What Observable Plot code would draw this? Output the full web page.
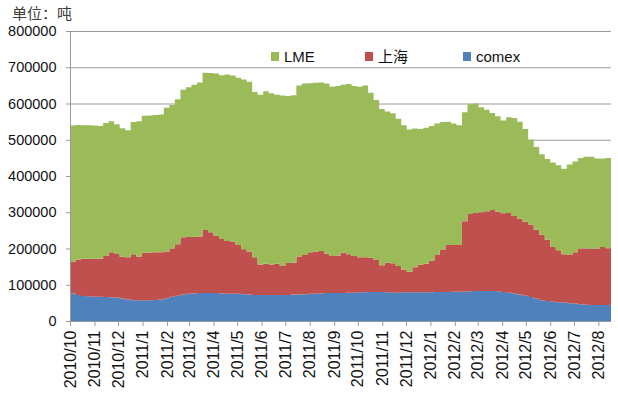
<!DOCTYPE html>
<html>
<head>
<meta charset="utf-8">
<script src="https://cdn.jsdelivr.net/npm/d3@7"></script>
<script src="https://cdn.jsdelivr.net/npm/@observablehq/plot@0.6"></script>
<style>
  body { margin: 0; background: #fff; }
  #wrap { position: relative; width: 618px; height: 403px; overflow: hidden; }
  #title { position: absolute; left: 12px; top: 5px; font: 15px/15px "Noto Sans CJK SC", sans-serif; color: #404040; }
  .leg { position: absolute; top: 49px; height: 15px; font: 15px/15px "Liberation Sans", "Noto Sans CJK SC", sans-serif; color: #111; display: flex; align-items: center; }
  .leg span.sw { display: inline-block; width: 8px; height: 9px; margin-right: 5px; }
  #chart { position: absolute; left: 0; top: 0; }
</style>
</head>
<body>
<div id="wrap">
  <div id="chart"></div>
  <div id="title">单位：吨</div>
  <div id="legend"></div>
</div>
<script>
// Weekly series, start 2010-10-01 (tonnes)
const startDate = "2010-10-01";
const seriesNames = ["comex", "上海", "LME"];
const seriesColors = ["#4F81BD", "#C0504D", "#9BBB59"];
const legendOrder = ["LME", "上海", "comex"];
const yTicks = [0, 100000, 200000, 300000, 400000, 500000, 600000, 700000, 800000];

const comex = [76,72,69,68,67,67,66,65,65,62,59,57,57,57,57,58,59,63,67,70,
  73,75,76,77,77,77,77,76,75,75,75,74,73,72,72,72,72,72,72,72,
  73,73,74,75,75,76,77,77,77,77,78,78,79,79,80,80,80,79,78,78,
  79,79,79,79,79,79,80,80,80,81,81,81,82,83,83,83,83,82,80,78,
  76,73,70,66,62,57,55,53,52,51,49,48,46,45,44,44,44,44,44].map(v => v * 1000);

const shanghai = [88,98,103,104,105,105,113,125,120,115,117,127,121,131,132,132,131,129,133,142,
  158,157,156,156,174,168,159,150,146,144,135,124,119,104,84,86,84,86,80,88,
  88,105,108,115,117,117,109,102,104,111,106,101,97,97,95,88,74,82,81,74,
  63,57,69,76,79,87,102,116,130,129,129,194,213,215,217,220,223,220,217,220,
  214,209,204,200,190,181,169,151,143,133,133,142,154,155,155,155,160,157,157].map(v => v * 1000);

const lme = [375,371,368,368,367,366,367,361,358,355,350,365,373,378,378,378,380,396,396,400,
  407,413,420,425,434,439,447,452,459,458,461,468,468,456,468,476,472,466,470,461,
  462,472,473,466,465,465,469,467,467,464,470,469,470,474,455,442,431,417,414,406,
  398,392,383,375,375,372,363,353,340,335,330,301,303,302,290,280,268,263,256,264,
  270,268,256,234,228,222,223,233,235,236,250,250,250,253,254,249,244,249,239].map(v => v * 1000);

const values = [comex, shanghai, lme];
const t0 = new Date(startDate + "T00:00:00Z").getTime();
const dates = comex.map((_, i) => new Date(t0 + i * 7 * 864e5));

const rows = [];
seriesNames.forEach((name, s) => {
  values[s].forEach((v, i) => rows.push({date: dates[i], value: v, series: name}));
});

const chart = Plot.plot({
  width: 618,
  height: 403,
  marginLeft: 70,
  marginRight: 7,
  marginTop: 31,
  marginBottom: 82,
  style: {fontFamily: "'Liberation Sans', Arial, sans-serif", background: "transparent"},
  x: {type: "utc", domain: [dates[0], dates[dates.length - 1]]},
  y: {domain: [0, 800000]},
  color: {domain: seriesNames, range: seriesColors},
  marks: [
    Plot.gridY(yTicks, {stroke: "#9a9a9a", strokeOpacity: 1, insetLeft: -4}),
    Plot.areaY(rows, {x: "date", y: "value", z: "series", fill: "series", curve: "step-after", order: null}),
    Plot.ruleY([0], {stroke: "#9a9a9a"}),
    Plot.ruleX([dates[0]], {stroke: "#9a9a9a"}),
    Plot.axisY({ticks: yTicks, tickFormat: d => String(d), tickSize: 0, tickPadding: 14, fontSize: 14.5, fill: "#111", label: null}),
    Plot.axisX({ticks: "month", tickFormat: "%Y/%-m", tickRotate: -90, tickSize: 5, tickPadding: 4, stroke: "#9a9a9a", fill: "#111", fontSize: 16, label: null})
  ]
});
document.getElementById("chart").appendChild(chart);

const legendPos = {"LME": 271, "上海": 365, "comex": 463};
const legend = document.getElementById("legend");
legendOrder.forEach(name => {
  const d = document.createElement("div");
  d.className = "leg";
  d.style.left = legendPos[name] + "px";
  const sw = document.createElement("span");
  sw.className = "sw";
  sw.style.background = seriesColors[seriesNames.indexOf(name)];
  d.appendChild(sw);
  d.appendChild(document.createTextNode(name));
  legend.appendChild(d);
});
</script>
</body>
</html>
